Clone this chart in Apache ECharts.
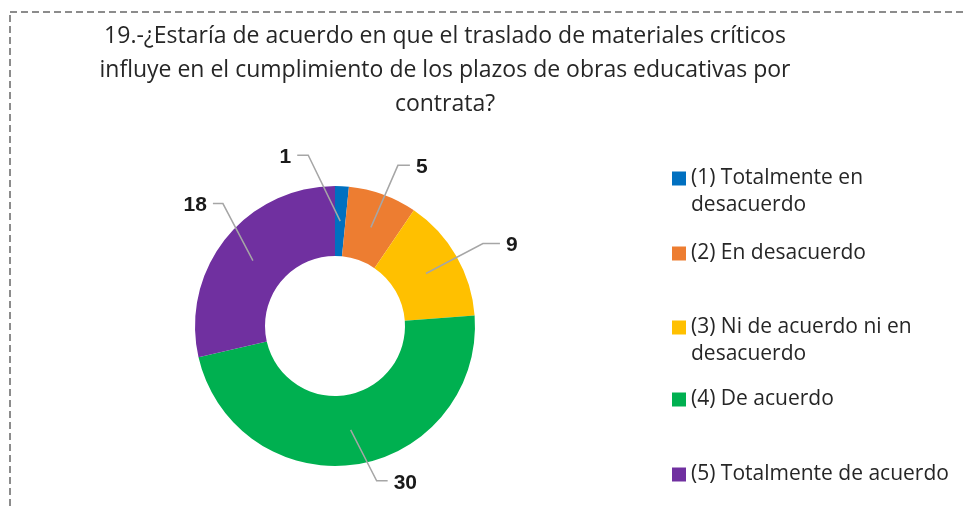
<!DOCTYPE html>
<html>
<head>
<meta charset="utf-8">
<script src="https://cdn.jsdelivr.net/npm/echarts@6/dist/echarts.min.js"></script>
<style>
html, body { margin: 0; padding: 0; background: #fff; }
</style>
</head>
<body>
<div id="ch" style="width: 966px; height: 510px;"></div>

<script>
// data
var categories = [
    '(1) Totalmente en desacuerdo',
    '(2) En desacuerdo',
    '(3) Ni de acuerdo ni en desacuerdo',
    '(4) De acuerdo',
    '(5) Totalmente de acuerdo'
]
var counts = [1, 5, 9, 30, 18]
var legendText = [
    '(1) Totalmente en\ndesacuerdo',
    '(2) En desacuerdo',
    '(3) Ni de acuerdo ni en\ndesacuerdo',
    '(4) De acuerdo',
    '(5) Totalmente de acuerdo'
]
var colors = ['#0070C0', '#ED7D31', '#FFC000', '#00B050', '#7030A0']
var titleText = '19.-¿Estaría de acuerdo en que el traslado de materiales críticos\n' +
    'influye en el cumplimiento de los plazos de obras educativas por\ncontrata?'

// layout
var CX = 335, CY = 326, R_IN = 70, R_OUT = 140, R_MID = 105
var FONT = 'Open Sans'
// leader line bends: [dx, dy] from the start point, then horizontal tail
var bends = [[-32, -66, -11], [27, -62, 12], [57, -30, 17], [26, 51, 11], [-30, -57, -10]]
var legendTops = [138, 240, 287, 386, 461]
var LH = 27

var chartInst = echarts.init(document.getElementById('ch'))

var pieData = categories.map(function(name, i) {
    return { name: name, value: counts[i], itemStyle: { color: colors[i] } }
})
// same slices, invisible, only used to carry the labels so their lines sit above the ring
var labelData = categories.map(function(name, i) {
    return { name: name, value: counts[i] }
})

var legends = categories.map(function(name, i) {
    // two-line entries get an empty first line so the square sits on line one
    var txt = legendText[i].indexOf('\n') >= 0 ? '\n' + legendText[i] : legendText[i]
    return {
        orient: 'vertical',
        left: 672,
        top: legendTops[i],
        padding: 0,
        icon: 'rect',
        itemWidth: 14,
        itemHeight: 14,
        selectedMode: false,
        data: [name],
        formatter: function() { return txt },
        textStyle: {
            fontFamily: FONT,
            fontSize: 21,
            color: '#262626',
            lineHeight: LH
        }
    }
})

var option = {
    animation: false,
    title: {
        text: titleText,
        left: 445,
        top: 19,
        padding: 0,
        textAlign: 'center',
        textStyle: {
            fontFamily: FONT,
            fontSize: 23,
            fontWeight: 'normal',
            color: '#262626',
            lineHeight: 34
        }
    },
    legend: legends,
    graphic: [{
        type: 'rect',
        silent: true,
        shape: { x: 10, y: 12, width: 1000, height: 600 },
        style: { fill: 'none', stroke: '#8c8c8c', lineWidth: 2, lineDash: [7, 4] }
    }],
    series: [{
        type: 'pie',
        z: 2,
        center: [CX, CY],
        radius: [R_IN, R_OUT],
        startAngle: 90,
        clockwise: true,
        silent: true,
        data: pieData,
        itemStyle: { borderWidth: 0 },
        label: { show: false },
        labelLine: { show: false }
    }, {
        type: 'pie',
        z: 6,
        center: [CX, CY],
        radius: [0, R_MID],
        startAngle: 90,
        clockwise: true,
        silent: true,
        data: labelData,
        itemStyle: { color: 'rgba(0,0,0,0)', borderWidth: 0 },
        label: {
            show: true,
            position: 'outside',
            formatter: '{c}',
            fontFamily: 'Liberation Sans',
            fontSize: 21,
            fontWeight: 'bold',
            color: '#1a1a1a'
        },
        labelLine: {
            show: true,
            showAbove: true,
            length: 20,
            length2: 10,
            lineStyle: { color: '#a6a6a6', width: 1.5 }
        },
        labelLayout: function(p) {
            var pts = p.labelLinePoints
            var i = p.dataIndex
            var ox = pts[0][0] - CX, oy = pts[0][1] - CY
            var len = Math.sqrt(ox * ox + oy * oy)
            var sx = CX + ox / len * R_MID, sy = CY + oy / len * R_MID
            var b = bends[i]
            var ex = sx + b[0], ey = sy + b[1]
            var tx = ex + b[2]
            var right = b[2] > 0
            return {
                x: tx + (right ? 6 : -6),
                y: ey + 2,
                align: right ? 'left' : 'right',
                verticalAlign: 'middle',
                labelLinePoints: [[sx, sy], [ex, ey], [tx, ey]]
            }
        }
    }]
}
chartInst.setOption(option)
</script>
</body>
</html>
